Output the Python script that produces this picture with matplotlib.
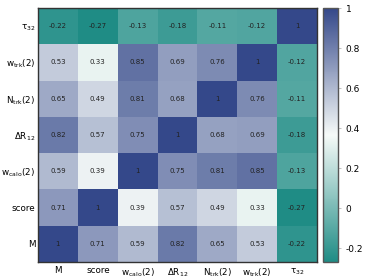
import numpy as np
import matplotlib
matplotlib.use("Agg")
import matplotlib.pyplot as plt
from matplotlib.colors import LinearSegmentedColormap

plt.rcParams['mathtext.default'] = 'regular'

# variable names (column order, rows shown with origin at bottom)
labels = [r'M', r'score', r'$w_{calo}(2)$', r'$\Delta R_{12}$',
          r'$N_{trk}(2)$', r'$w_{trk}(2)$', r'$\tau_{32}$']

row_M = [1, 0.71, 0.59, 0.82, 0.65, 0.53, -0.22]
row_score = [0.71, 1, 0.39, 0.57, 0.49, 0.33, -0.27]
row_wcalo = [0.59, 0.39, 1, 0.75, 0.81, 0.85, -0.13]
row_dr = [0.82, 0.57, 0.75, 1, 0.68, 0.69, -0.18]
row_ntrk = [0.65, 0.49, 0.81, 0.68, 1, 0.76, -0.11]
row_wtrk = [0.53, 0.33, 0.85, 0.69, 0.76, 1, -0.12]
row_tau = [-0.22, -0.27, -0.13, -0.18, -0.11, -0.12, 1]

corr = np.array([row_M, row_score, row_wcalo, row_dr, row_ntrk, row_wtrk, row_tau])

cmap = LinearSegmentedColormap.from_list(
    'tealblue', ['#1f8c85', '#f6faf8', '#34488a'])

fig = plt.figure(figsize=(3.74, 2.80), dpi=100)
ax = fig.add_axes([38 / 374, 1 - 262 / 280, 279 / 374, 254 / 280])
cax = fig.add_axes([323 / 374, 1 - 262 / 280, 15 / 374, 254 / 280])

im = ax.imshow(corr, cmap=cmap, vmin=corr.min(), vmax=corr.max(),
               origin='lower', aspect='auto', interpolation='nearest')

n = len(labels)
for i in range(n):
    for j in range(n):
        v = corr[i, j]
        txt = '1' if v == 1 else ('%g' % v)
        ax.text(j, i, txt, ha='center', va='center', fontsize=5, color='#222222')

ax.set_xticks(range(n))
ax.set_yticks(range(n))
ax.set_xticklabels(labels, fontsize=6.3)
ax.set_yticklabels(labels, fontsize=6.3)
ax.tick_params(axis='y', length=0, pad=2)
ax.tick_params(axis='x', length=0, pad=3)
for s in ax.spines.values():
    s.set_color('#333333')
    s.set_linewidth(1.0)

cb = fig.colorbar(im, cax=cax)
cb.set_ticks([-0.2, 0, 0.2, 0.4, 0.6, 0.8, 1])
cb.set_ticklabels(['-0.2', '0', '0.2', '0.4', '0.6', '0.8', '1'])
cb.ax.tick_params(labelsize=6.5, length=2, color='#aaaaaa', width=0.5)
cb.outline.set_edgecolor('#555555')
cb.outline.set_linewidth(1.0)

fig.savefig('out.png', dpi=100)
